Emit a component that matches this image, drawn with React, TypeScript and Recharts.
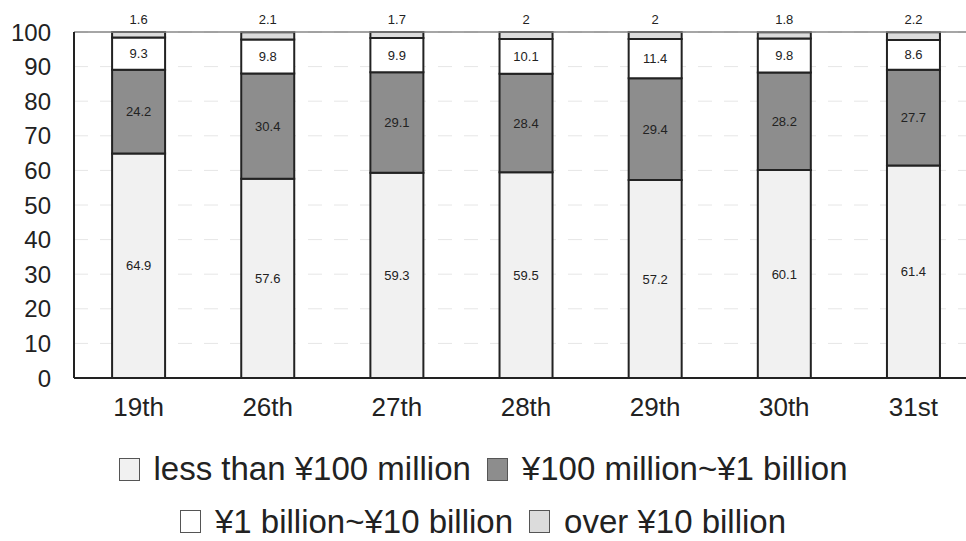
import { BarChart, Bar, XAxis, YAxis, CartesianGrid, LabelList, ReferenceLine } from "recharts";

const sessions = ["19th", "26th", "27th", "28th", "29th", "30th", "31st"];
const under100m = [64.9, 57.6, 59.3, 59.5, 57.2, 60.1, 61.4];
const from100mTo1b = [24.2, 30.4, 29.1, 28.4, 29.4, 28.2, 27.7];
const from1bTo10b = [9.3, 9.8, 9.9, 10.1, 11.4, 9.8, 8.6];
const over10b = [1.6, 2.1, 1.7, 2, 2, 1.8, 2.2];
const yTicks = [0, 10, 20, 30, 40, 50, 60, 70, 80, 90, 100];

const seriesNames = {
  a: "less than ¥100 million",
  b: "¥100 million~¥1 billion",
  c: "¥1 billion~¥10 billion",
  d: "over ¥10 billion",
};

const colors = { a: "#f1f1f1", b: "#8d8d8d", c: "#ffffff", d: "#dcdcdc" };

const data = sessions.map((s, i) => ({
  name: s,
  a: under100m[i],
  b: from100mTo1b[i],
  c: from1bTo10b[i],
  d: over10b[i],
}));

const font = "'Liberation Sans', Arial, Helvetica, sans-serif";

const LegendItem = ({ k }: { k: keyof typeof seriesNames }) => (
  <span style={{ display: "inline-flex", alignItems: "center", margin: "0 8px" }}>
    <span
      style={{
        display: "inline-block",
        width: 19,
        height: 21,
        background: colors[k],
        border: "1.5px solid #555",
        marginRight: 14,
      }}
    />
    <span>{seriesNames[k]}</span>
  </span>
);

export default function App() {
  const label = { fontSize: 13, fill: "#222", fontFamily: font };
  return (
    <div
      style={{
        position: "fixed",
        top: 0,
        left: 0,
        width: 966,
        height: 541,
        overflow: "hidden",
        background: "#fff",
        fontFamily: font,
      }}
    >
      <BarChart
        width={1000}
        height={541}
        data={data}
        margin={{ top: 32, right: 22, left: 0, bottom: 0 }}
        barCategoryGap="29.5%"
      >
        <CartesianGrid vertical={false} stroke="#e6e6e6" strokeDasharray="14 12" />
        <ReferenceLine y={100} stroke="#888" strokeWidth={1.5} />
        <XAxis
          dataKey="name"
          height={163}
          tickLine={false}
          axisLine={{ stroke: "#222", strokeWidth: 2 }}
          tickMargin={14}
          tick={{ fontSize: 26, fill: "#222", fontFamily: font }}
        />
        <YAxis
          width={74}
          domain={[0, 100]}
          ticks={yTicks}
          interval={0}
          tickLine={false}
          axisLine={{ stroke: "#222", strokeWidth: 2 }}
          tickMargin={17}
          tick={{ fontSize: 24, fill: "#222", fontFamily: font }}
        />
        <Bar dataKey="a" stackId="s" fill={colors.a} stroke="#222" strokeWidth={2} isAnimationActive={false}>
          <LabelList dataKey="a" position="center" style={label} />
        </Bar>
        <Bar dataKey="b" stackId="s" fill={colors.b} stroke="#222" strokeWidth={2} isAnimationActive={false}>
          <LabelList dataKey="b" position="center" style={label} />
        </Bar>
        <Bar dataKey="c" stackId="s" fill={colors.c} stroke="#222" strokeWidth={2} isAnimationActive={false}>
          <LabelList dataKey="c" position="center" style={label} />
        </Bar>
        <Bar dataKey="d" stackId="s" fill={colors.d} stroke="#222" strokeWidth={2} isAnimationActive={false}>
          <LabelList dataKey="d" position="top" offset={8} style={label} />
        </Bar>
      </BarChart>
      <div
        style={{
          position: "absolute",
          top: 443,
          left: 0,
          width: 966,
          fontSize: 33,
          color: "#222",
          textAlign: "center",
          lineHeight: "52px",
        }}
      >
        <div>
          <LegendItem k="a" />
          <LegendItem k="b" />
        </div>
        <div>
          <LegendItem k="c" />
          <LegendItem k="d" />
        </div>
      </div>
    </div>
  );
}
